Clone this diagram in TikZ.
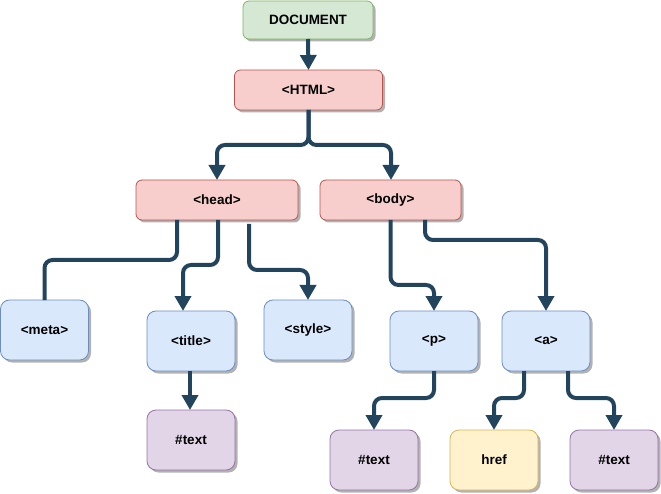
\documentclass[tikz,border=0pt]{standalone}
\usepackage{fontspec}
\setmainfont{Liberation Sans}
\usetikzlibrary{arrows.meta,shadows}

\definecolor{docfill}{HTML}{D5E8D4}
\definecolor{docline}{HTML}{82B366}
\definecolor{tagfill}{HTML}{F8CECC}
\definecolor{tagline}{HTML}{B85450}
\definecolor{elemfill}{HTML}{DAE8FC}
\definecolor{elemline}{HTML}{6C8EBF}
\definecolor{textfill}{HTML}{E1D5E7}
\definecolor{textline}{HTML}{9673A6}
\definecolor{attrfill}{HTML}{FFF2CC}
\definecolor{attrline}{HTML}{D6B656}
\definecolor{linkcol}{HTML}{23445D}

\begin{document}
\begin{tikzpicture}[x=1pt, y=-1pt,
    box/.style={draw, line width=0.8pt, inner sep=0pt, outer sep=0pt,
      font=\fontsize{13.5}{16}\selectfont\bfseries,
      drop shadow={shadow xshift=2.5pt, shadow yshift=-2.5pt, opacity=0.3, fill=black}},
    wide/.style={box, rounded corners=6pt, minimum height=40pt},
    small/.style={box, rounded corners=9pt, minimum width=88pt, minimum height=60pt},
    docbox/.style={wide, fill=docfill, draw=docline},
    tagbox/.style={wide, fill=tagfill, draw=tagline},
    elembox/.style={small, fill=elemfill, draw=elemline},
    textbox/.style={small, fill=textfill, draw=textline},
    attrbox/.style={small, fill=attrfill, draw=attrline},
    link/.style={draw=linkcol, line width=4pt, rounded corners=8pt},
    arrow/.style={link, -{Triangle[width=16pt,length=15pt]}}]

    \useasboundingbox (0,0) rectangle (661,494);

    % top
    \node[docbox, minimum width=130pt, minimum height=38pt] (doc) at (308,20) {DOCUMENT};
    \node[tagbox, minimum width=148pt] (html) at (308.5,90) {<HTML>};
    \node[tagbox, minimum width=162pt] (head) at (217,200) {<head>};
    \node[tagbox, minimum width=141pt] (body) at (390.5,200) {<body>};

    % elements
    \node[elembox] (meta) at (44.5,330) {<meta>};
    \node[elembox] (title) at (191,341) {<title>};
    \node[elembox] (style) at (308,330) {<style>};
    \node[elembox] (p) at (434,341) {<p>};
    \node[elembox] (a) at (546,341) {<a>};

    % leaves
    \node[textbox] (titletext) at (191,440) {\#text};
    \node[textbox] (ptext) at (374,460) {\#text};
    \node[attrbox] (href) at (494,460) {href};
    \node[textbox] (atext) at (614,460) {\#text};

    % links
    \draw[arrow] (doc.south) -- (html.north);
    \draw[arrow] (html.south) -- ++(0,35) -| (head.north);
    \draw[arrow] (html.south) -- ++(0,35) -| ([xshift=0.5pt]body.north);
    \draw[link] ([xshift=-40pt]head.south) -- ++(0,40) -| (meta.north);
    \draw[arrow] ([xshift=1pt]head.south) -- ++(0,45) -| ([xshift=-8pt]title.north);
    \draw[arrow] ([xshift=32pt,yshift=-4pt]head.south) -- ++(0,46) -| (style.north);
    \draw[arrow] (body.south) -- ++(0,65) -| (p.north);
    \draw[arrow] ([xshift=34.5pt]body.south) -- ++(0,20) -| (a.north);
    \draw[arrow] ([xshift=-1pt]title.south) -- ([xshift=-1pt]titletext.north);
    \draw[arrow] (p.south) -- ++(0,27) -| (ptext.north);
    \draw[arrow] ([xshift=-22pt]a.south) -- ++(0,27) -| (href.north);
    \draw[arrow] ([xshift=22pt]a.south) -- ++(0,27) -| (atext.north);
\end{tikzpicture}
\end{document}
